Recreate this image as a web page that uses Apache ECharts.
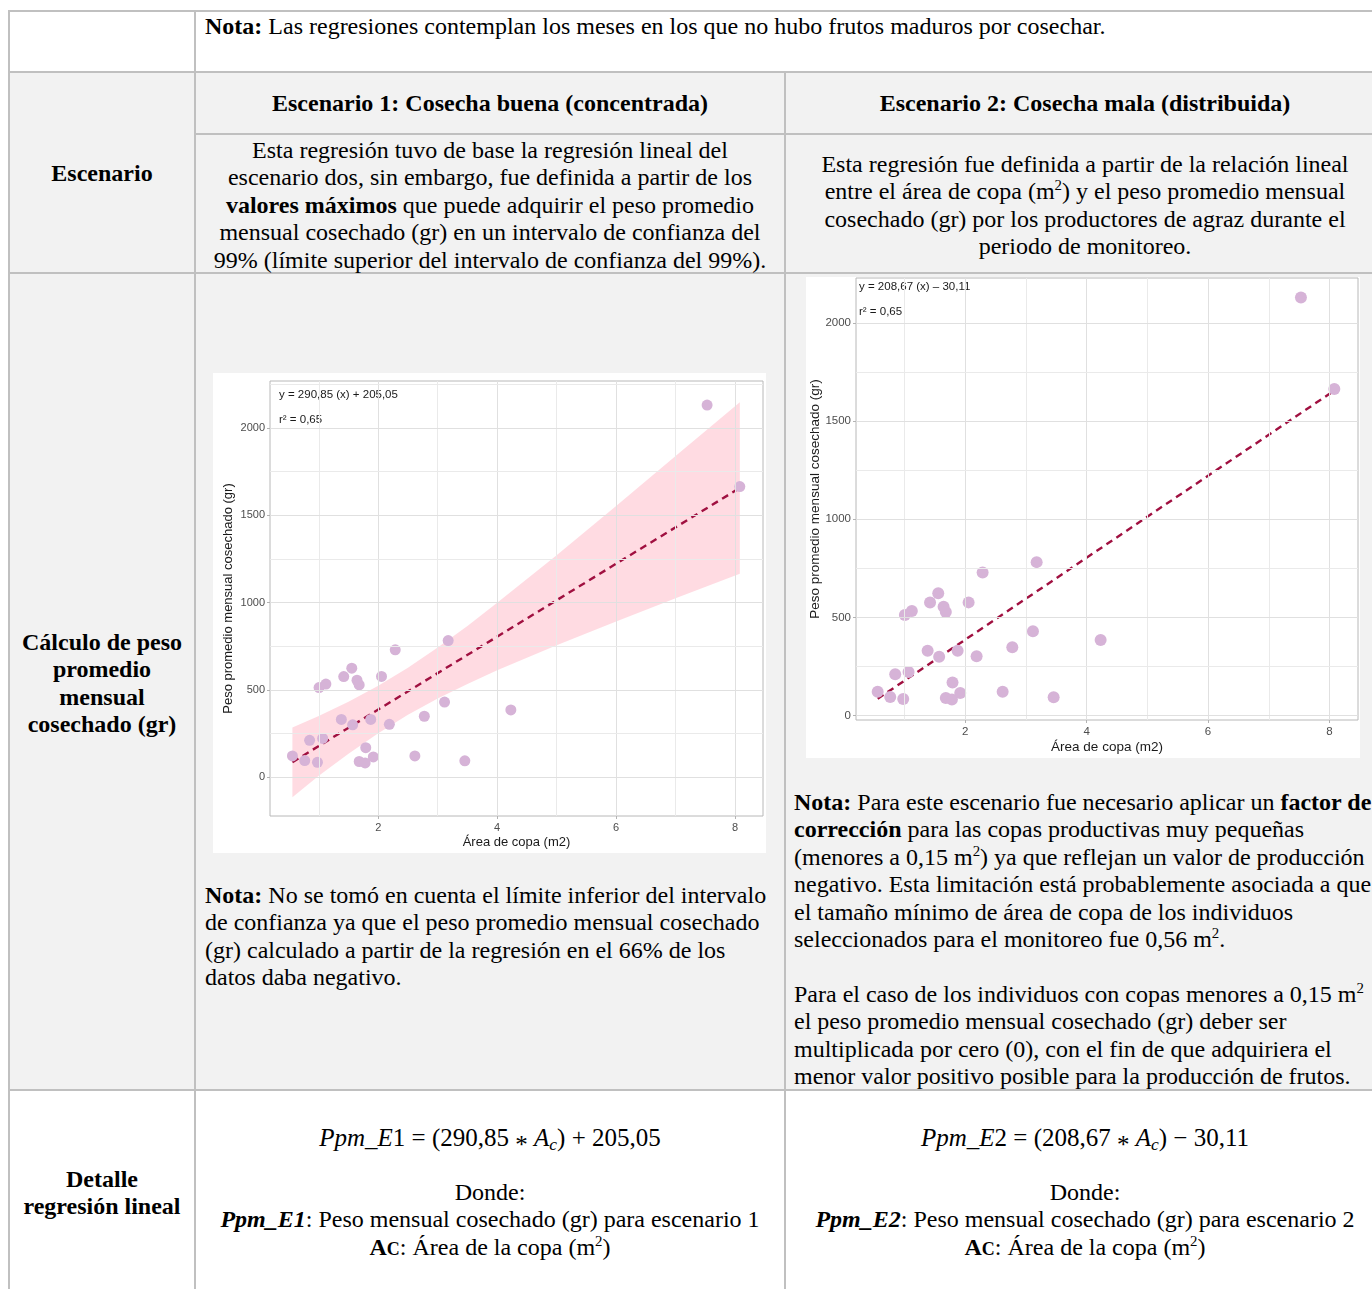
<!DOCTYPE html>
<html>
<head>
<meta charset="utf-8">
<script src="https://cdn.jsdelivr.net/npm/echarts@6/dist/echarts.min.js"></script>
<style>
html, body { margin: 0; padding: 0; background: #fff; }
body {
  width: 1372px; height: 1289px; position: relative; overflow: hidden;
  font-family: "Liberation Serif", "Times New Roman", serif; font-size: 24px; color: #000;
}
.bg { position: absolute; background: #f2f2f2; }
.ln { position: absolute; background: #c0c0c0; }
.t { position: absolute; white-space: nowrap; line-height: 27.4px; }
.c { text-align: center; }
sup { font-size: 0.62em; line-height: 0; vertical-align: 0.6em; }
sub { font-size: 0.7em; line-height: 0; vertical-align: -0.25em; }
.chart { position: absolute; background: #fff; }
.math { font-size: 25px; }
.op { position: relative; top: 0.28em; }
.sc { font-size: 0.75em; }
</style>
</head>
<body>
<!-- shaded body rows -->
<div class="bg" style="left:9px;top:72px;width:1363px;height:1018px;"></div>

<!-- table rules -->
<div class="ln" style="left:8px;top:10px;width:1364px;height:2px;"></div>
<div class="ln" style="left:8px;top:71px;width:1364px;height:2px;"></div>
<div class="ln" style="left:194px;top:133px;width:1178px;height:2px;"></div>
<div class="ln" style="left:8px;top:272px;width:1364px;height:2px;"></div>
<div class="ln" style="left:8px;top:1089px;width:1364px;height:2px;"></div>
<div class="ln" style="left:8px;top:10px;width:2px;height:1279px;"></div>
<div class="ln" style="left:194px;top:10px;width:2px;height:1279px;"></div>
<div class="ln" style="left:784px;top:71px;width:2px;height:1218px;"></div>

<!-- row: note -->
<div class="t" style="left:205px;top:13px;"><b>Nota:</b> Las regresiones contemplan los meses en los que no hubo frutos maduros por cosechar.</div>

<!-- row: scenario -->
<div class="t c" style="left:9px;top:160px;width:186px;"><b>Escenario</b></div>
<div class="t c" style="left:195px;top:90px;width:590px;"><b>Escenario 1: Cosecha buena (concentrada)</b></div>
<div class="t c" style="left:785px;top:90px;width:600px;"><b>Escenario 2: Cosecha mala (distribuida)</b></div>
<div class="t c" style="left:195px;top:137px;width:590px;">Esta regresión tuvo de base la regresión lineal del<br>escenario dos, sin embargo, fue definida a partir de los<br><b>valores máximos</b> que puede adquirir el peso promedio<br>mensual cosechado (gr) en un intervalo de confianza del<br>99% (límite superior del intervalo de confianza del 99%).</div>
<div class="t c" style="left:785px;top:151px;width:600px;">Esta regresión fue definida a partir de la relación lineal<br>entre el área de copa (m<sup>2</sup>) y el peso promedio mensual<br>cosechado (gr) por los productores de agraz durante el<br>periodo de monitoreo.</div>

<!-- row: monthly weight -->
<div class="t c" style="left:9px;top:629px;width:186px;"><b>Cálculo de peso<br>promedio<br>mensual<br>cosechado (gr)</b></div>
<div class="chart" id="chart1" style="left:213px;top:373px;width:553px;height:480px;"></div>
<div class="chart" id="chart2" style="left:806px;top:277px;width:554px;height:481px;"></div>
<div class="t" style="left:205px;top:882px;"><b>Nota:</b> No se tomó en cuenta el límite inferior del intervalo<br>de confianza ya que el peso promedio mensual cosechado<br>(gr) calculado a partir de la regresión en el 66% de los<br>datos daba negativo.</div>
<div class="t" style="left:794px;top:789px;"><b>Nota:</b> Para este escenario fue necesario aplicar un <b>factor de<br>corrección</b> para las copas productivas muy pequeñas<br>(menores a 0,15 m<sup>2</sup>) ya que reflejan un valor de producción<br>negativo. Esta limitación está probablemente asociada a que<br>el tamaño mínimo de área de copa de los individuos<br>seleccionados para el monitoreo fue 0,56 m<sup>2</sup>.<br>&nbsp;<br>Para el caso de los individuos con copas menores a 0,15 m<sup>2</sup><br>el peso promedio mensual cosechado (gr) deber ser<br>multiplicada por cero (0), con el fin de que adquiriera el<br>menor valor positivo posible para la producción de frutos.</div>

<!-- row: regression detail -->
<div class="t c" style="left:9px;top:1166px;width:186px;"><b>Detalle<br>regresión lineal</b></div>
<div class="t c math" style="left:195px;top:1124px;width:590px;"><i>Ppm</i>_<i>E</i>1 = (290,85 <span class="op">*</span> <i>A<sub>c</sub></i>) + 205,05</div>
<div class="t c math" style="left:785px;top:1124px;width:600px;"><i>Ppm</i>_<i>E</i>2 = (208,67 <span class="op">*</span> <i>A<sub>c</sub></i>) − 30,11</div>
<div class="t c" style="left:195px;top:1179px;width:590px;">Donde:<br><b><i>Ppm_E1</i></b>: Peso mensual cosechado (gr) para escenario 1<br><b>A<span class="sc">C</span></b>: Área de la copa (m<sup>2</sup>)</div>
<div class="t c" style="left:785px;top:1179px;width:600px;">Donde:<br><b><i>Ppm_E2</i></b>: Peso mensual cosechado (gr) para escenario 2<br><b>A<span class="sc">C</span></b>: Área de la copa (m<sup>2</sup>)</div>

<script>
// Observed crowns: canopy area (m2) and mean monthly harvested weight (gr)
const areaCopa = [0.557, 0.764, 0.846, 0.978, 1.005, 1.066, 1.12, 1.38, 1.42, 1.555,
                  1.57, 1.643, 1.68, 1.68, 1.78, 1.79, 1.874, 1.917, 2.055, 2.187,
                  2.286, 2.616, 2.775, 3.115, 3.176, 3.456, 4.23, 7.53, 8.08];
const pesoMensual = [122, 95, 211, 85, 513, 222, 533, 331, 576, 624,
                     300, 555, 528, 90, 82, 169, 331, 116, 577, 303,
                     729, 122, 349, 430, 782, 94, 385, 2130, 1664];

// Fitted linear regression (dashed line)
const fitSlope = 208.67;
const fitIntercept = -30.11;
const fitRange = [0.557, 8.08];

// 99% confidence band around the fit
const bandX    = [0.557, 1, 1.5, 2, 2.5, 3, 3.5, 4, 5, 6, 7, 8.08];
const bandLow  = [-115, 8, 134, 251, 357, 450, 534, 612, 755, 891, 1024, 1165];
const bandHigh = [285, 350, 432, 523, 627, 742, 866, 998, 1271, 1553, 1838, 2147];

// Axis ticks and grid lines
const xTicks = [2, 4, 6, 8];
const xMinor = [1, 3, 5, 7];
const yTicks = [0, 500, 1000, 1500, 2000];
const yMinor = [250, 750, 1250, 1750, 2250];

const eqText1 = 'y = 290,85 (x) + 205,05';
const eqText2 = 'y = 208,67 (x) \u2013 30,11';
const r2Text = 'r\u00b2 = 0,65';
const xTitle = 'Área de copa (m2)';
const yTitle = 'Peso promedio mensual cosechado (gr)';

const SANS = '"Liberation Sans", Arial, sans-serif';

function buildChart(el, cfg) {
  const chart = echarts.init(el, null, { renderer: 'canvas' });
  const inRange = (v, ext) => v >= ext[0] && v <= ext[1];
  const major = { color: '#e0e0e0', width: 1, type: 'solid' };
  const minor = { color: '#eaeaea', width: 1, type: 'solid' };
  const gridLines = []
    .concat(xTicks.filter(v => inRange(v, cfg.xExt)).map(v => ({ xAxis: v, lineStyle: major })))
    .concat(xMinor.filter(v => inRange(v, cfg.xExt)).map(v => ({ xAxis: v, lineStyle: minor })))
    .concat(yTicks.filter(v => inRange(v, cfg.yExt)).map(v => ({ yAxis: v, lineStyle: major })))
    .concat(yMinor.filter(v => inRange(v, cfg.yExt)).map(v => ({ yAxis: v, lineStyle: minor })));

  const series = [{
    type: 'scatter', data: [], z: 1, silent: true,
    markLine: {
      silent: true, symbol: ['none', 'none'], label: { show: false }, animation: false,
      lineStyle: { type: 'solid' }, emphasis: { disabled: true }, data: gridLines
    }
  }];

  if (cfg.band) {
    series.push({
      type: 'custom', z: 2, silent: true, clip: true,
      data: bandX.map((x, i) => [x, bandLow[i], bandHigh[i]]),
      renderItem: function (params, api) {
        if (params.dataIndex !== 0) return null;
        const top = bandX.map((x, i) => api.coord([x, bandHigh[i]]));
        const bottom = bandX.map((x, i) => api.coord([x, bandLow[i]])).reverse();
        return { type: 'polygon', shape: { points: top.concat(bottom) }, style: { fill: 'rgba(255,190,202,0.55)' } };
      }
    });
  }

  series.push({
    type: 'line', z: 3, silent: true, symbol: 'none',
    data: fitRange.map(x => [x, fitSlope * x + fitIntercept]),
    lineStyle: { color: '#a01040', width: 2.4, type: [7, 5] }
  });

  series.push({
    type: 'scatter', z: 4, silent: true, symbolSize: cfg.pointSize,
    data: areaCopa.map((x, i) => [x, pesoMensual[i]]),
    itemStyle: { color: '#d6b3d7', opacity: 1 }
  });

  const plain = v => String(v);

  chart.setOption({
    animation: false,
    backgroundColor: '#fff',
    grid: {
      left: cfg.grid[0], top: cfg.grid[1], right: cfg.grid[2], bottom: cfg.grid[3],
      containLabel: false, outerBoundsMode: 'none',
      show: true, backgroundColor: '#fff', borderColor: '#b8b8b8', borderWidth: 1
    },
    xAxis: {
      type: 'value', min: cfg.xExt[0], max: cfg.xExt[1],
      axisLine: { show: false, onZero: false },
      axisTick: { show: true, customValues: xTicks, length: 3, lineStyle: { color: '#b3b3b3' } },
      axisLabel: { customValues: xTicks, formatter: plain, color: '#4d4d4d', fontSize: cfg.tickSize, fontFamily: SANS, margin: 6 },
      splitLine: { show: false },
      name: xTitle, nameLocation: 'middle', nameGap: cfg.xNameGap, nameMoveOverlap: false,
      nameTextStyle: { color: '#1a1a1a', fontSize: cfg.titleSize, fontFamily: SANS }
    },
    yAxis: {
      type: 'value', min: cfg.yExt[0], max: cfg.yExt[1],
      axisLine: { show: false, onZero: false },
      axisTick: { show: true, customValues: yTicks, length: 3, lineStyle: { color: '#b3b3b3' } },
      axisLabel: { customValues: yTicks, formatter: plain, color: '#4d4d4d', fontSize: cfg.tickSize, fontFamily: SANS, margin: 5 },
      splitLine: { show: false },
      name: yTitle, nameLocation: 'middle', nameGap: cfg.yNameGap, nameMoveOverlap: false,
      nameTextStyle: { color: '#1a1a1a', fontSize: cfg.titleSize, fontFamily: SANS }
    },
    graphic: [
      { type: 'text', left: cfg.eqPos[0], top: cfg.eqPos[1], silent: true,
        style: { text: cfg.eq, fill: '#1a1a1a', fontSize: 11.5, fontFamily: SANS } },
      { type: 'text', left: cfg.eqPos[0], top: cfg.eqPos[1] + 25, silent: true,
        style: { text: r2Text, fill: '#1a1a1a', fontSize: 11.5, fontFamily: SANS } }
    ],
    series: series
  });
  return chart;
}

buildChart(document.getElementById('chart1'), {
  grid: [57, 8, 3, 37], xExt: [0.18, 8.47], yExt: [-222, 2268],
  band: true, pointSize: 11, tickSize: 11, titleSize: 13,
  xNameGap: 20, yNameGap: 35, eq: eqText1, eqPos: [66, 16]
});
buildChart(document.getElementById('chart2'), {
  grid: [50, 1, 2, 38], xExt: [0.2, 8.47], yExt: [-22, 2229],
  band: false, pointSize: 12, tickSize: 11.5, titleSize: 13.5,
  xNameGap: 20, yNameGap: 34, eq: eqText2, eqPos: [53, 3.5]
});
</script>
</body>
</html>
